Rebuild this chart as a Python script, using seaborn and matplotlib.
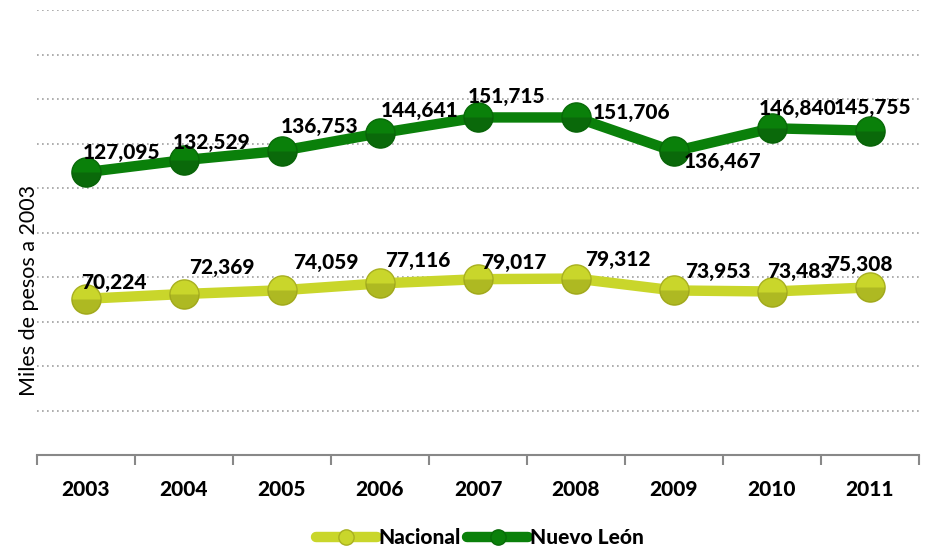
import matplotlib
matplotlib.use("Agg")
import matplotlib.pyplot as plt
import seaborn as sns
import pandas as pd
import numpy as np
from matplotlib.lines import Line2D

years = ["2003", "2004", "2005", "2006", "2007", "2008", "2009", "2010", "2011"]
nacional = [70224, 72369, 74059, 77116, 79017, 79312, 73953, 73483, 75308]
nuevo_leon = [127095, 132529, 136753, 144641, 151715, 151706, 136467, 146840, 145755]
series_names = ["Nacional", "Nuevo León"]
y_label = "Miles de pesos a 2003"

# label offsets in pixels (dx, dy) from the point
nl_offsets = [(36, 20), (28, 18), (38, 24), (40, 23), (29, 21), (56, 5), (49, -10), (26, 20), (3, 23)]
na_offsets = [(28, 16), (38, 26), (44, 28), (38, 23), (36, 17), (42, 19), (44, 19), (28, 20), (-10, 23)]

sns.set_theme(style="white")
plt.rcParams['font.family'] = ['Lato', 'DejaVu Sans']
plt.rcParams['text.color'] = 'black'
plt.rcParams['axes.labelcolor'] = 'black'
plt.rcParams['xtick.color'] = 'black'

df = pd.DataFrame({
    "x": list(range(len(years))) * 2,
    "value": nacional + nuevo_leon,
    "serie": [series_names[0]] * len(years) + [series_names[1]] * len(years),
})

colors = {"Nacional": "#c9d62b", "Nuevo León": "#0a800a"}
edge = {"Nacional": "#a8b020", "Nuevo León": "#086a08"}
shade = {"Nacional": "#8f9618", "Nuevo León": "#0b4f0b"}

fig = plt.figure(figsize=(9.26, 5.5), dpi=100)
ax = fig.add_axes([37 / 926, 1 - 455 / 550, (919 - 37) / 926, (455 - 10) / 550])

sns.lineplot(data=df, x="x", y="value", hue="serie", palette=colors, ax=ax,
             linewidth=7.5, legend=False, zorder=3)
for name, vals in zip(series_names, [nacional, nuevo_leon]):
    ax.plot(range(len(years)), vals, linestyle="none", marker="o", markersize=21,
            markerfacecolor=colors[name], markeredgecolor=edge[name], markeredgewidth=1.0,
            zorder=4)
    # shaded lower half for a spherical look
    ax.plot(range(len(years)), vals, linestyle="none", marker="o", markersize=21,
            fillstyle="bottom", markerfacecolor=shade[name], markerfacecoloralt="none",
            markeredgewidth=0, alpha=0.45, zorder=5)

for vals, offs in [(nuevo_leon, nl_offsets), (nacional, na_offsets)]:
    for i, (v, (dx, dy)) in enumerate(zip(vals, offs)):
        ax.annotate(f"{v:,}", (i, v), xytext=(dx * 0.72, dy * 0.72), textcoords="offset points",
                    ha="center", va="center", fontsize=15, fontweight="black", color="black",
                    zorder=6)

ax.set_xlim(-0.5, len(years) - 0.5)
ax.set_ylim(0, 200000)
ax.set_yticks(np.arange(20000, 200001, 20000))
ax.yaxis.grid(True, linestyle=(0, (1, 2)), color="#a0a0a0", linewidth=1.2)
ax.set_yticklabels([])
ax.tick_params(axis="y", length=0)

ax.set_xticks(range(len(years)))
ax.set_xticklabels(years, fontsize=15, fontweight="black", color="black")
ax.set_xticks(np.arange(-0.5, len(years)), minor=True)
ax.tick_params(axis="x", which="major", length=0, pad=18)
ax.tick_params(axis="x", which="minor", length=7, width=1.5, color="#888888", bottom=True)

for s in ["top", "right", "left"]:
    ax.spines[s].set_visible(False)
ax.spines["bottom"].set_color("#888888")
ax.spines["bottom"].set_linewidth(1.5)

ax.set_xlabel("")
ax.set_ylabel(y_label, fontsize=15.5, color="black")
ax.yaxis.set_label_coords(0.002, 0.37)

handles = [Line2D([0], [0], color=colors[n], linewidth=7.5, marker="o", markersize=11,
                  markerfacecolor=colors[n], markeredgecolor=edge[n]) for n in series_names]
fig.legend(handles, series_names, loc="center", bbox_to_anchor=(480 / 926, 1 - 538 / 550),
           ncol=2, frameon=False, prop={"size": 15, "weight": "black"},
           handlelength=2.9, columnspacing=0.3, handletextpad=0.1)

fig.savefig("out.png", dpi=100)
